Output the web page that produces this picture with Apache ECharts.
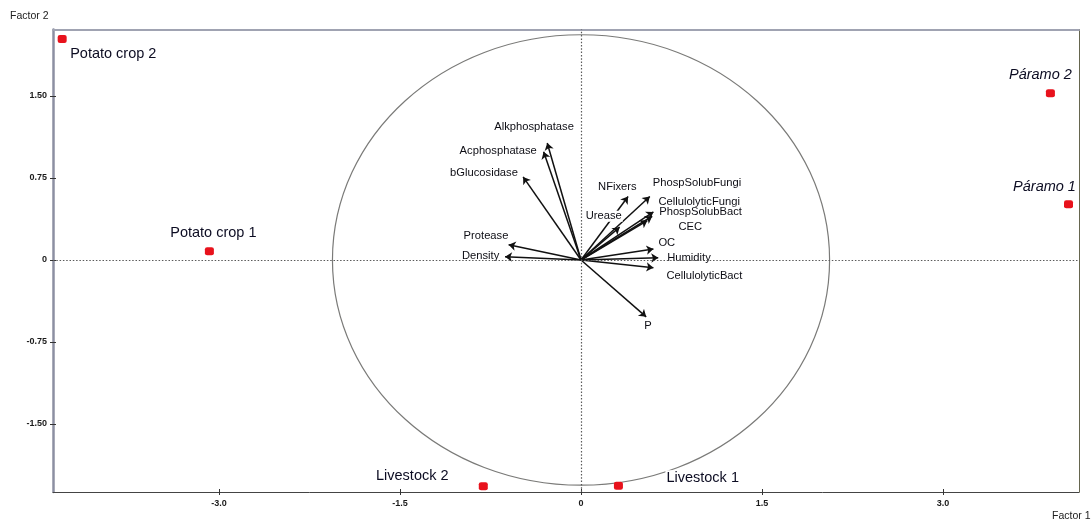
<!DOCTYPE html>
<html>
<head>
<meta charset="utf-8">
<script src="https://cdn.jsdelivr.net/npm/echarts@6/dist/echarts.min.js"></script>
<style>
html,body{margin:0;padding:0;background:#fff;}
#chart{width:1092px;height:521px;}
</style>
</head>
<body>
<div id="chart"></div>
<script>
// ---- data ----
const vectorNames = ['Alkphosphatase','Acphosphatase','bGlucosidase','Protease','Density','NFixers','Urease','PhospSolubFungi','CellulolyticFungi','PhospSolubBact','CEC','OC','Humidity','CellulolyticBact','P'];
const vectorX = [-0.28,-0.31,-0.48,-0.60,-0.63,0.39,0.32,0.57,0.60,0.59,0.55,0.60,0.64,0.60,0.54];
const vectorY = [1.07,0.99,0.76,0.14,0.03,0.58,0.30,0.58,0.44,0.40,0.36,0.10,0.02,-0.07,-0.52];

const sampleNames = ['Potato crop 2','Potato crop 1','Páramo 2','Páramo 1','Livestock 2','Livestock 1'];
const sampleX = [-4.30,-3.08,3.89,4.04,-0.81,0.31];
const sampleY = [2.02,0.08,1.525,0.51,-2.07,-2.065];

const xTickValues = [-3, -1.5, 0, 1.5, 3];
const xTickLabels = ['-3.0','-1.5','0','1.5','3.0'];
const yTickValues = [-1.5, -0.75, 0, 0.75, 1.5];
const yTickLabels = ['-1.50','-0.75','0','0.75','1.50'];
const circleRadius = 2.06;
const xRange = [-4.376, 4.127];
const yRange = [-2.122, 2.108];
const xTitle = 'Factor 1';
const yTitle = 'Factor 2';

// ---- label placement (styling, pixel offsets from mark) ----
const vectorLabelOffset = {
  Alkphosphatase:[-54,-16], Acphosphatase:[-85,-1], bGlucosidase:[-74,-4], Protease:[-46,-9],
  Density:[-44,-1], NFixers:[-31,-10], Urease:[-35,-11], PhospSolubFungi:[2,-14],
  CellulolyticFungi:[4,-10], PhospSolubBact:[6,-4], CEC:[30,6], OC:[4,-6],
  Humidity:[8,0], CellulolyticBact:[12,8], P:[-3,9]
};
const sampleLabelPlace = {
  'Potato crop 2':{align:'left', off:[7,15]},
  'Potato crop 1':{align:'center', off:[4,-18]},
  'Páramo 2':{align:'center', off:[-10,-18], italic:true},
  'Páramo 1':{align:'center', off:[-24,-17], italic:true},
  'Livestock 2':{align:'center', off:[-71,-10]},
  'Livestock 1':{align:'left', off:[47,-8]}
};

const FONT = 'Arial, "Liberation Sans", sans-serif';
const chart = echarts.init(document.getElementById('chart'), null, {renderer:'canvas'});

const fmt = (vals, labs) => (v) => { const i = vals.findIndex(t => Math.abs(t - v) < 1e-9); return i >= 0 ? labs[i] : ''; };

const arrowData = vectorNames.map((n, i) => ({name:n, coords:[[0,0],[vectorX[i], vectorY[i]]]}));
const vectorLabelData = vectorNames.map((n, i) => ({
  name:n, value:[vectorX[i], vectorY[i]],
  label:{position:'inside', align:'left', verticalAlign:'middle', offset:vectorLabelOffset[n]}
}));
const sampleData = sampleNames.map((n, i) => {
  const p = sampleLabelPlace[n];
  return {name:n, value:[sampleX[i], sampleY[i]],
    label:{position:'inside', align:p.align, verticalAlign:'middle', offset:p.off, fontStyle:p.italic ? 'italic' : 'normal'}};
});

const tickLabelStyle = {fontSize:9, fontFamily:FONT, color:'#1a1a1a', fontWeight:'bold'};

const option = {
  backgroundColor:'#fff',
  animation:false,
  grid:{left:53, right:13, top:29.5, bottom:29, containLabel:false, outerBoundsMode:'none'},
  graphic:[
    {type:'text', left:10, top:11, style:{text:yTitle, fontSize:10.5, fontFamily:FONT, fill:'#222'}},
    {type:'text', left:1052, top:511, style:{text:xTitle, fontSize:10.5, fontFamily:FONT, fill:'#222'}}
  ],
  xAxis:[
    {type:'value', position:'bottom', min:xRange[0], max:xRange[1],
      axisLine:{show:true, onZero:false, lineStyle:{color:'#444', width:1}},
      axisTick:{show:true, customValues:xTickValues, length:3, lineStyle:{color:'#333'}},
      axisLabel:Object.assign({customValues:xTickValues, formatter:fmt(xTickValues, xTickLabels), margin:7}, tickLabelStyle),
      splitLine:{show:false}},
    {type:'value', position:'top', min:xRange[0], max:xRange[1],
      axisLine:{show:true, onZero:false, lineStyle:{color:'#a0a3b2', width:2}},
      axisTick:{show:false}, axisLabel:{show:false}, splitLine:{show:false}},
    {type:'value', position:'bottom', min:xRange[0], max:xRange[1],
      axisLine:{show:false, onZero:false},
      axisTick:{show:true, inside:true, customValues:xTickValues, length:3, lineStyle:{color:'#333'}},
      axisLabel:{show:false}, splitLine:{show:false}}
  ],
  yAxis:[
    {type:'value', position:'left', min:yRange[0], max:yRange[1],
      axisLine:{show:true, onZero:false, lineStyle:{color:'#8c8fa2', width:2.5}},
      axisTick:{show:true, customValues:yTickValues, length:3, lineStyle:{color:'#333'}},
      axisLabel:Object.assign({customValues:yTickValues, formatter:fmt(yTickValues, yTickLabels), margin:6}, tickLabelStyle),
      splitLine:{show:false}},
    {type:'value', position:'right', min:yRange[0], max:yRange[1],
      axisLine:{show:true, onZero:false, lineStyle:{color:'#66664f', width:1}},
      axisTick:{show:false}, axisLabel:{show:false}, splitLine:{show:false}},
    {type:'value', position:'left', min:yRange[0], max:yRange[1],
      axisLine:{show:false, onZero:false},
      axisTick:{show:true, inside:true, customValues:yTickValues, length:3, lineStyle:{color:'#333'}},
      axisLabel:{show:false}, splitLine:{show:false}}
  ],
  series:[
    {type:'custom', name:'circle', z:1, silent:true,
      data:[[0, 0, circleRadius]],
      renderItem:(params, api) => {
        const c = api.coord([api.value(0), api.value(1)]);
        const s = api.size([api.value(2), api.value(2)]);
        return {type:'ellipse', shape:{cx:c[0], cy:c[1], rx:s[0], ry:s[1]},
          style:{fill:null, stroke:'#7a7a78', lineWidth:1.2}};
      },
      markLine:{silent:true, symbol:'none', label:{show:false},
        lineStyle:{color:'#5a5a5a', width:1.2, type:[1.5, 1.8]},
        data:[{xAxis:0}, {yAxis:0}]}
    },
    {type:'lines', coordinateSystem:'cartesian2d', z:3, silent:true,
      symbol:['none','arrow'], symbolSize:[0,7],
      lineStyle:{color:'#111', width:1.5, opacity:1},
      data:arrowData},
    {type:'scatter', name:'vectorLabels', z:4, silent:true,
      symbol:'circle', symbolSize:1, itemStyle:{color:'rgba(0,0,0,0)', opacity:1},
      label:{show:true, formatter:'{b}', fontSize:11.2, fontFamily:FONT, color:'#0d0d14',
        backgroundColor:'#fff', padding:[0,1]},
      data:vectorLabelData},
    {type:'scatter', name:'samples', z:5, silent:true,
      symbol:'roundRect', symbolSize:[9,8], itemStyle:{color:'#e8121c', opacity:1},
      label:{show:true, formatter:'{b}', fontSize:14.5, fontFamily:FONT, color:'#0c0c22',
        backgroundColor:'#fff', padding:[0,1]},
      data:sampleData}
  ]
};
chart.setOption(option);
</script>
</body>
</html>
